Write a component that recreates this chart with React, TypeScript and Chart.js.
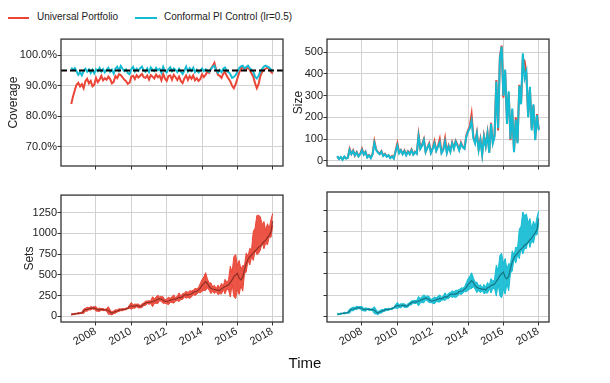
import React, { useEffect, useRef } from 'react';
import { Chart, registerables } from 'chart.js';
Chart.register(...registerables);

// ---------- data ----------
const START_YEAR = 2006.6;
const STEP = 0.1;
const yearTicks = [2008, 2010, 2012, 2014, 2016, 2018];
const coverageTicks = [70, 80, 90, 100];
const sizeTicks = [0, 100, 200, 300, 400, 500];
const setsTicks = [0, 250, 500, 750, 1000, 1250];
const TARGET = 95;

const coverageUP = [
  84.0, 86.5, 88.5, 90.3, 91.0, 89.8, 90.5, 89.2, 91.5, 92.3,
  90.8, 91.6, 89.8, 90.3, 92.6, 91.2, 92.0, 93.3, 91.8, 92.5,
  92.0, 93.0, 92.2, 90.8, 91.3, 93.2, 92.5, 93.8, 93.5, 92.8,
  92.0, 91.5, 90.6, 91.0, 93.0, 93.3, 92.2, 93.5, 92.7, 93.3,
  93.9, 92.8, 92.6, 93.4, 92.0, 93.5, 93.0, 92.4, 93.7, 92.8,
  93.3, 91.8, 93.9, 92.4, 91.6, 93.2, 93.4, 92.0, 93.6, 92.8,
  91.9, 93.0, 91.6, 90.9, 92.4, 93.4, 91.9, 93.2, 92.3, 93.4,
  91.8, 92.5, 91.6, 92.2, 93.8, 92.9, 93.6, 94.6, 94.2, 95.6,
  96.5, 97.5, 95.2, 93.6, 93.3, 92.6, 94.0, 94.5, 93.2, 92.3,
  91.4, 90.0, 89.2, 90.5, 92.4, 94.3, 95.6, 96.2, 95.3, 95.5,
  96.1, 95.2, 94.0, 93.0, 90.8, 89.2, 90.6, 93.2, 94.6, 95.2,
  95.6, 96.0, 95.5, 94.6, 94.0,
];

const coverageCPI = [
  96.0, 95.2, 95.8, 94.8, 93.6, 94.5, 93.4, 94.9, 95.6, 94.6,
  95.4, 94.2, 95.3, 94.1, 95.4, 94.8, 95.9, 94.7, 95.5, 94.4,
  95.2, 95.9, 94.6, 95.3, 94.0, 95.7, 96.3, 95.0, 96.5, 95.6,
  94.8, 95.4, 94.2, 93.8, 95.5, 96.2, 94.7, 95.6, 94.9, 95.8,
  96.3, 95.0, 94.6, 95.7, 94.5, 96.0, 95.3, 94.8, 95.9, 95.1,
  95.6, 94.3, 96.2, 94.9, 94.4, 95.5, 96.1, 94.8, 95.7, 95.2,
  94.5, 95.6, 94.6, 93.9, 95.0, 96.3, 94.7, 95.8, 94.9, 95.9,
  94.5, 95.3, 94.4, 94.9, 95.7, 94.8, 95.4, 95.0, 94.6, 95.5,
  96.2, 96.6, 95.1, 94.3, 95.2, 94.5, 95.6, 96.0, 94.8, 94.5,
  93.8, 92.6, 92.9, 93.5, 94.6, 95.8, 96.4, 96.6, 95.7, 96.2,
  96.6, 95.8, 95.2, 94.6, 93.0, 92.4, 93.3, 94.7, 95.6, 96.3,
  96.6, 96.3, 96.0, 95.4, 94.8,
];

const sizeUP = [
  20, 10, 15, 8, 18, 12, 14, 55, 32, 48,
  24, 40, 22, 32, 55, 30, 42, 18, 26, 14,
  32, 90, 52, 40, 32, 44, 24, 32, 20, 26,
  14, 22, 12, 45, 80, 38, 50, 32, 48, 28,
  44, 32, 52, 30, 42, 34, 120, 58, 75, 100,
  42, 62, 80, 38, 58, 90, 48, 68, 100, 38,
  54, 103, 40, 70, 45, 84, 58, 92, 74, 52,
  84, 66, 58, 115, 140, 160, 215, 110, 85, 130,
  54, 100, 32, 115, 70, 130, 40, 175, 85, 120,
  372, 140, 480, 530, 290, 410, 190, 310, 95, 230,
  45, 200, 85, 350, 265, 470, 460, 400, 205, 330,
  150, 255, 100, 215, 145,
];

const sizeCPI = [
  22, 8, 18, 5, 20, 10, 15, 50, 30, 45,
  25, 38, 20, 30, 50, 28, 40, 15, 25, 12,
  30, 82, 50, 38, 30, 42, 22, 30, 18, 25,
  12, 20, 10, 42, 70, 35, 48, 30, 45, 25,
  42, 30, 48, 28, 40, 32, 112, 55, 70, 95,
  40, 60, 75, 35, 55, 80, 45, 65, 85, 35,
  50, 88, 36, 66, 42, 80, 55, 88, 70, 48,
  80, 62, 55, 110, 135, 150, 185, 105, 80, 125,
  50, 95, 28, 110, 66, 125, 36, 170, 80, 110,
  365, 150, 470, 525, 300, 420, 170, 320, 100, 240,
  40, 190, 80, 345, 260, 495, 380, 410, 200, 340,
  140, 260, 95, 210, 140,
];

const price = [
  24, 27, 30, 34, 38, 39, 44, 62, 82, 86,
  92, 98, 102, 100, 92, 78, 80, 86, 82, 78,
  80, 72, 52, 38, 50, 60, 66, 76, 80, 82,
  86, 90, 100, 118, 128, 120, 124, 132, 125, 118,
  128, 148, 158, 170, 168, 172, 178, 186, 196, 206,
  214, 210, 196, 180, 182, 186, 196, 202, 210, 205,
  218, 232, 225, 240, 258, 262, 258, 264, 270, 290,
  295, 300, 320, 340, 375, 395, 420, 400, 360, 340,
  330, 325, 318, 320, 310, 335, 345, 360, 370, 380,
  410, 440, 480, 500, 520, 460, 440, 470, 560, 640,
  690, 720, 740, 770, 790, 810, 835, 850, 870, 900,
  920, 950, 980, 1020, 1150,
];

const setCenter = [
  24, 27, 30, 34, 38, 39, 44, 62, 82, 86,
  92, 98, 102, 100, 92, 78, 80, 86, 82, 78,
  80, 72, 52, 38, 50, 60, 66, 76, 80, 82,
  86, 90, 100, 118, 128, 120, 124, 132, 125, 118,
  128, 148, 158, 170, 168, 172, 178, 186, 196, 206,
  214, 210, 196, 180, 182, 186, 196, 202, 210, 205,
  218, 232, 225, 240, 258, 262, 258, 264, 270, 290,
  295, 300, 320, 340, 375, 395, 420, 400, 360, 340,
  330, 325, 318, 320, 310, 335, 345, 360, 370, 380,
  420, 460, 480, 480, 470, 470, 470, 460, 560, 650,
  700, 720, 760, 850, 930, 980, 990, 1000, 1000, 980,
  960, 990, 1010, 1060, 1170,
];

// ---------- style ----------
const RED = '#EA4536';
const CYAN = '#14BCD3';
const GRID = '#d2d2d2';
const AXIS = '#333333';
const TXT = '#222222';
const FONT = "'Liberation Sans', Arial, Helvetica, sans-serif";
const TICK_SIZE = 11;
const X_MIN = 2006.02;
const X_MAX = 2018.58;

const years = coverageUP.map((_, i) => Math.round((START_YEAR + i * STEP) * 100) / 100);
const pts = (arr: number[]) => arr.map((v, i) => ({ x: years[i], y: v }));
const band = (size: number[], sign: number) =>
  setCenter.map((c, i) => ({ x: years[i], y: c + (sign * size[i]) / 2 }));

const framePlugin = {
  id: 'frame',
  afterDraw(chart: any) {
    const { ctx, chartArea: a } = chart;
    ctx.save();
    ctx.strokeStyle = AXIS;
    ctx.lineWidth = 1.3;
    ctx.strokeRect(a.left, a.top, a.right - a.left, a.bottom - a.top);
    ctx.restore();
  },
};

const targetPlugin = {
  id: 'target',
  afterDatasetsDraw(chart: any) {
    const { ctx, chartArea: a } = chart;
    const y = chart.scales.y.getPixelForValue(TARGET);
    ctx.save();
    ctx.strokeStyle = '#000';
    ctx.lineWidth = 2;
    ctx.setLineDash([6, 3]);
    ctx.beginPath();
    ctx.moveTo(a.left, y);
    ctx.lineTo(a.right, y);
    ctx.stroke();
    ctx.restore();
  },
};

// rotated year labels under the bottom panels
const xLabelPlugin = {
  id: 'xlabels',
  afterDraw(chart: any) {
    const { ctx, chartArea: a } = chart;
    const s = chart.scales.x;
    ctx.save();
    ctx.font = `${TICK_SIZE}px ${FONT}`;
    ctx.fillStyle = TXT;
    ctx.textAlign = 'right';
    ctx.textBaseline = 'middle';
    yearTicks.forEach((v) => {
      const px = s.getPixelForValue(v);
      ctx.save();
      ctx.translate(px - 0.5, a.bottom + 8.5);
      ctx.rotate(-Math.PI / 6);
      ctx.fillText(String(v), 0, 0);
      ctx.restore();
    });
    ctx.restore();
  },
};

function xScale(h: number) {
  return {
    type: 'linear',
    min: X_MIN,
    max: X_MAX,
    afterBuildTicks: (s: any) => {
      s.ticks = yearTicks.map((v) => ({ value: v }));
    },
    afterFit: (s: any) => {
      s.height = h;
    },
    grid: { color: GRID, lineWidth: 1, drawTicks: true, tickLength: 3.5, tickColor: AXIS, tickWidth: 1 },
    border: { display: false },
    ticks: { display: false },
  };
}

function yScale(
  min: number,
  max: number,
  tickVals: number[],
  width: number,
  showLabels: boolean,
  fmt: (v: number) => string,
  title?: string,
  titlePad?: number
) {
  return {
    type: 'linear',
    min,
    max,
    afterBuildTicks: (s: any) => {
      s.ticks = tickVals.map((v) => ({ value: v }));
    },
    afterFit: (s: any) => {
      s.width = width;
    },
    grid: { color: GRID, lineWidth: 1, drawTicks: true, tickLength: 3.5, tickColor: AXIS, tickWidth: 1 },
    border: { display: false },
    ticks: {
      display: showLabels,
      padding: 0.5,
      color: TXT,
      font: { family: FONT, size: TICK_SIZE },
      callback: (v: any) => fmt(Number(v)),
    },
    title: title
      ? {
          display: true,
          text: title,
          color: TXT,
          font: { family: FONT, size: 12 },
          padding: { top: titlePad ?? 0, bottom: 0 },
        }
      : { display: false },
  };
}

const baseOptions = (scales: any) => ({
  responsive: false,
  animation: false,
  events: [],
  layout: { padding: { top: 4, right: 6, left: 0, bottom: 0 } },
  plugins: { legend: { display: false }, tooltip: { enabled: false } },
  elements: { point: { radius: 0 }, line: { tension: 0 } },
  scales,
});

const lineDs = (data: any, color: string, order: number) => ({
  data,
  borderColor: color,
  backgroundColor: color,
  borderWidth: 2,
  pointRadius: 0,
  fill: false,
  order,
});

function coverageConfig(): any {
  return {
    type: 'line',
    data: {
      datasets: [lineDs(pts(coverageCPI), CYAN, 1), lineDs(pts(coverageUP), RED, 2)],
    },
    options: baseOptions({
      x: xScale(10),
      y: yScale(63.57, 105.37, coverageTicks, 61, true, (v) => v.toFixed(1) + '%', 'Coverage', 6.6),
    }),
    plugins: [targetPlugin, framePlugin],
  };
}

function sizeConfig(): any {
  return {
    type: 'line',
    data: {
      datasets: [lineDs(pts(sizeCPI), CYAN, 1), lineDs(pts(sizeUP), RED, 2)],
    },
    options: baseOptions({
      x: xScale(10),
      y: yScale(-24, 560, sizeTicks, 37, true, (v) => String(v), 'Size', 1.8),
    }),
    plugins: [framePlugin],
  };
}

function setsConfig(size: number[], color: string, fillColor: string, lineColor: string, left: boolean): any {
  return {
    type: 'line',
    data: {
      datasets: [
        { data: band(size, -1), borderColor: color, borderWidth: 1, pointRadius: 0, fill: false, order: 2 },
        {
          data: band(size, 1),
          borderColor: color,
          backgroundColor: fillColor,
          borderWidth: 1,
          pointRadius: 0,
          fill: '-1',
          order: 1,
        },
        { data: pts(price), borderColor: lineColor, borderWidth: 1.2, pointRadius: 0, fill: false, order: 0 },
      ],
    },
    options: baseOptions({
      x: xScale(40),
      y: left
        ? yScale(-67, 1462, setsTicks, 61, true, (v) => String(v), 'Sets', 22.5)
        : yScale(-67, 1462, setsTicks, 37, false, (v) => String(v)),
    }),
    plugins: [framePlugin, xLabelPlugin],
  };
}

function Panel(props: { left: number; top: number; width: number; height: number; build: () => any }) {
  const ref = useRef<HTMLCanvasElement>(null);
  useEffect(() => {
    const chart = new Chart(ref.current as HTMLCanvasElement, props.build());
    return () => chart.destroy();
  }, []);
  return (
    <canvas
      ref={ref}
      width={props.width}
      height={props.height}
      style={{ position: 'absolute', left: props.left, top: props.top, width: props.width, height: props.height, display: 'block' }}
    />
  );
}

export default function App() {
  const textStyle: React.CSSProperties = {
    position: 'absolute',
    fontFamily: FONT,
    fontSize: 10,
    lineHeight: '12px',
    color: TXT,
    whiteSpace: 'nowrap',
  };
  return (
    <div style={{ position: 'fixed', left: 0, top: 0, width: 610, height: 383, background: '#fff', overflow: 'hidden' }}>
      <div style={{ position: 'absolute', left: 8, top: 17, width: 21, height: 2, background: RED }} />
      <span style={{ ...textStyle, left: 37, top: 11 }}>Universal Portfolio</span>
      <div style={{ position: 'absolute', left: 135, top: 17, width: 22, height: 2, background: CYAN }} />
      <span style={{ ...textStyle, left: 164, top: 11 }}>Conformal PI Control (lr=0.5)</span>

      <Panel left={0} top={32} width={289} height={144} build={coverageConfig} />
      <Panel left={290} top={32} width={265} height={144} build={sizeConfig} />
      <Panel
        left={0}
        top={188}
        width={289}
        height={174}
        build={() => setsConfig(sizeUP, RED, 'rgba(234,69,54,0.92)', 'rgba(70,15,10,0.55)', true)}
      />
      <Panel
        left={290}
        top={188}
        width={265}
        height={174}
        build={() => setsConfig(sizeCPI, CYAN, 'rgba(20,188,211,0.92)', 'rgba(5,55,65,0.55)', false)}
      />

      <span
        style={{
          position: 'absolute',
          left: 0,
          width: 610,
          top: 354,
          textAlign: 'center',
          fontFamily: FONT,
          fontSize: 15,
          lineHeight: '18px',
          color: '#111',
        }}
      >
        Time
      </span>
    </div>
  );
}
